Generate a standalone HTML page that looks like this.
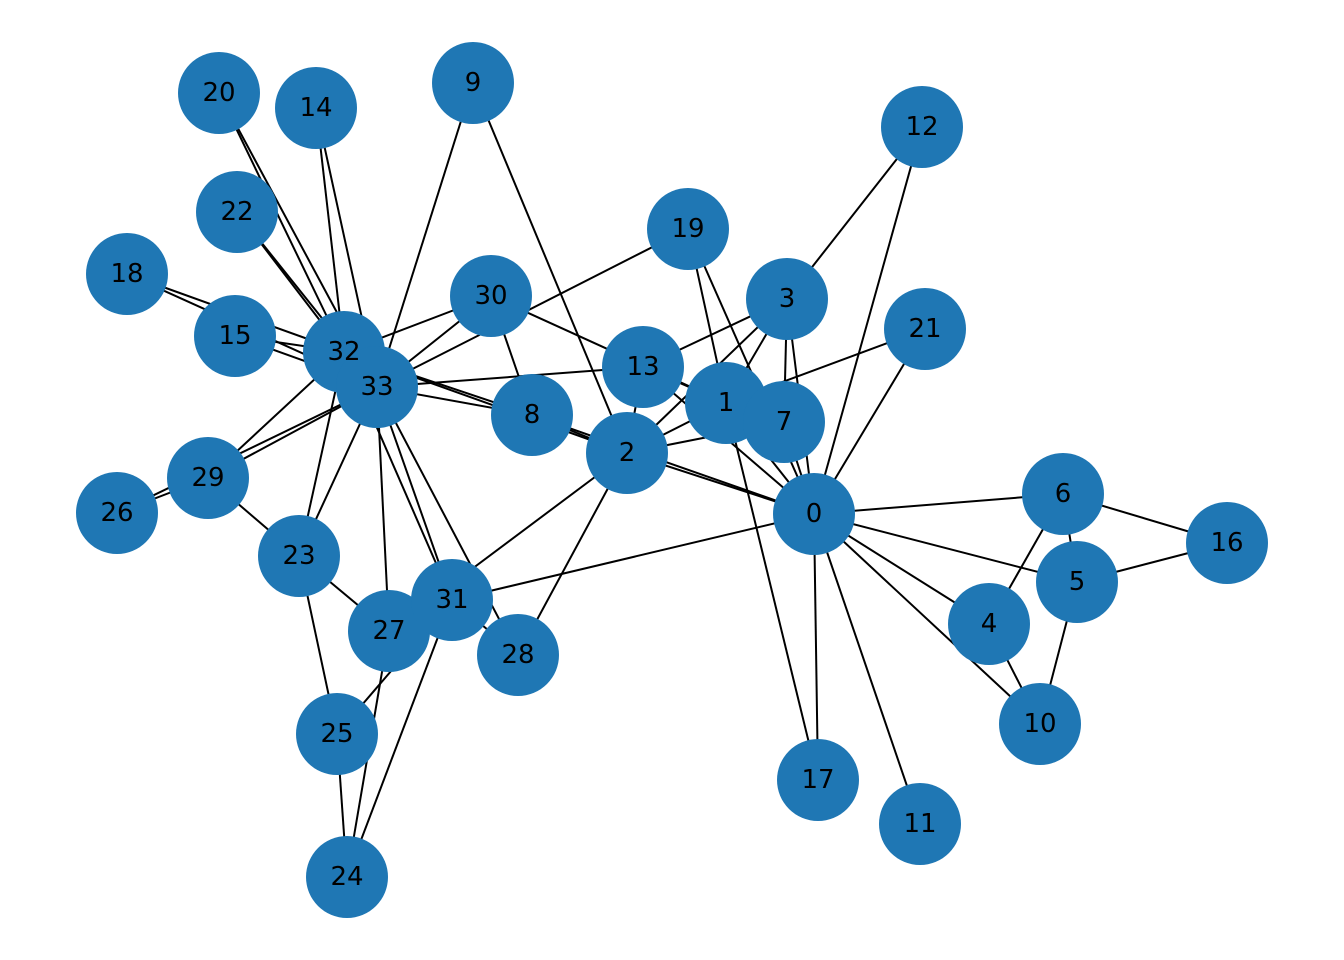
<!DOCTYPE html>
<html><head><meta charset="utf-8"><style>html,body{margin:0;padding:0;background:#fff}svg{display:block}</style></head>
<body>
<svg width="1344" height="960" viewBox="0 0 1344 960" xmlns="http://www.w3.org/2000/svg">
<g stroke="#000" stroke-width="2">
<line x1="814" y1="514" x2="726" y2="403"/><line x1="814" y1="514" x2="627" y2="453"/><line x1="814" y1="514" x2="787" y2="299"/><line x1="814" y1="514" x2="989" y2="624"/><line x1="814" y1="514" x2="1077" y2="582"/><line x1="814" y1="514" x2="1063" y2="494"/><line x1="814" y1="514" x2="784" y2="422"/><line x1="814" y1="514" x2="532" y2="415"/><line x1="814" y1="514" x2="1040" y2="724"/><line x1="814" y1="514" x2="920" y2="824"/><line x1="814" y1="514" x2="922" y2="127"/><line x1="814" y1="514" x2="643" y2="367"/><line x1="814" y1="514" x2="818" y2="780"/><line x1="814" y1="514" x2="688" y2="229"/><line x1="814" y1="514" x2="925" y2="329"/><line x1="814" y1="514" x2="452" y2="600"/>
<line x1="726" y1="403" x2="627" y2="453"/><line x1="726" y1="403" x2="787" y2="299"/><line x1="726" y1="403" x2="784" y2="422"/><line x1="726" y1="403" x2="643" y2="367"/><line x1="726" y1="403" x2="818" y2="780"/><line x1="726" y1="403" x2="688" y2="229"/><line x1="726" y1="403" x2="925" y2="329"/><line x1="726" y1="403" x2="491" y2="296"/>
<line x1="627" y1="453" x2="787" y2="299"/><line x1="627" y1="453" x2="784" y2="422"/><line x1="627" y1="453" x2="532" y2="415"/><line x1="627" y1="453" x2="473" y2="83"/><line x1="627" y1="453" x2="643" y2="367"/><line x1="627" y1="453" x2="389" y2="631"/><line x1="627" y1="453" x2="518" y2="655"/><line x1="627" y1="453" x2="344" y2="352"/>
<line x1="787" y1="299" x2="784" y2="422"/><line x1="787" y1="299" x2="922" y2="127"/><line x1="787" y1="299" x2="643" y2="367"/>
<line x1="989" y1="624" x2="1063" y2="494"/><line x1="989" y1="624" x2="1040" y2="724"/>
<line x1="1077" y1="582" x2="1063" y2="494"/><line x1="1077" y1="582" x2="1040" y2="724"/><line x1="1077" y1="582" x2="1227" y2="543"/>
<line x1="1063" y1="494" x2="1227" y2="543"/>
<line x1="532" y1="415" x2="491" y2="296"/><line x1="532" y1="415" x2="344" y2="352"/><line x1="532" y1="415" x2="377" y2="387"/>
<line x1="473" y1="83" x2="377" y2="387"/><line x1="643" y1="367" x2="377" y2="387"/>
<line x1="316" y1="108" x2="344" y2="352"/><line x1="316" y1="108" x2="377" y2="387"/>
<line x1="235" y1="336" x2="344" y2="352"/><line x1="235" y1="336" x2="377" y2="387"/>
<line x1="127" y1="274" x2="344" y2="352"/><line x1="127" y1="274" x2="377" y2="387"/>
<line x1="688" y1="229" x2="377" y2="387"/>
<line x1="219" y1="93" x2="344" y2="352"/><line x1="219" y1="93" x2="377" y2="387"/>
<line x1="237" y1="212" x2="344" y2="352"/><line x1="237" y1="212" x2="377" y2="387"/>
<line x1="299" y1="556" x2="337" y2="734"/><line x1="299" y1="556" x2="389" y2="631"/><line x1="299" y1="556" x2="208" y2="478"/><line x1="299" y1="556" x2="344" y2="352"/><line x1="299" y1="556" x2="377" y2="387"/>
<line x1="347" y1="877" x2="337" y2="734"/><line x1="347" y1="877" x2="389" y2="631"/><line x1="347" y1="877" x2="452" y2="600"/>
<line x1="337" y1="734" x2="452" y2="600"/>
<line x1="117" y1="513" x2="208" y2="478"/><line x1="117" y1="513" x2="377" y2="387"/>
<line x1="389" y1="631" x2="377" y2="387"/>
<line x1="518" y1="655" x2="452" y2="600"/><line x1="518" y1="655" x2="377" y2="387"/>
<line x1="208" y1="478" x2="344" y2="352"/><line x1="208" y1="478" x2="377" y2="387"/>
<line x1="491" y1="296" x2="344" y2="352"/><line x1="491" y1="296" x2="377" y2="387"/>
<line x1="452" y1="600" x2="344" y2="352"/><line x1="452" y1="600" x2="377" y2="387"/>
<line x1="344" y1="352" x2="377" y2="387"/>
</g>
<g fill="#1f77b4">
<circle cx="814" cy="514" r="41"/><circle cx="726" cy="403" r="41"/><circle cx="627" cy="453" r="41"/><circle cx="787" cy="299" r="41"/><circle cx="989" cy="624" r="41"/><circle cx="1077" cy="582" r="41"/><circle cx="1063" cy="494" r="41"/><circle cx="784" cy="422" r="41"/><circle cx="532" cy="415" r="41"/><circle cx="473" cy="83" r="41"/><circle cx="1040" cy="724" r="41"/><circle cx="920" cy="824" r="41"/><circle cx="922" cy="127" r="41"/><circle cx="643" cy="367" r="41"/><circle cx="316" cy="108" r="41"/><circle cx="235" cy="336" r="41"/><circle cx="1227" cy="543" r="41"/><circle cx="818" cy="780" r="41"/><circle cx="127" cy="274" r="41"/><circle cx="688" cy="229" r="41"/><circle cx="219" cy="93" r="41"/><circle cx="925" cy="329" r="41"/><circle cx="237" cy="212" r="41"/><circle cx="299" cy="556" r="41"/><circle cx="347" cy="877" r="41"/><circle cx="337" cy="734" r="41"/><circle cx="117" cy="513" r="41"/><circle cx="389" cy="631" r="41"/><circle cx="518" cy="655" r="41"/><circle cx="208" cy="478" r="41"/><circle cx="491" cy="296" r="41"/><circle cx="452" cy="600" r="41"/><circle cx="344" cy="352" r="41"/><circle cx="377" cy="387" r="41"/>
</g>
<g font-family="'DejaVu Sans','Liberation Sans',sans-serif" font-size="26" fill="#000" text-anchor="middle" dominant-baseline="central">
<text x="814" y="514">0</text><text x="726" y="403">1</text><text x="627" y="453">2</text><text x="787" y="299">3</text><text x="989" y="624">4</text><text x="1077" y="582">5</text><text x="1063" y="494">6</text><text x="784" y="422">7</text><text x="532" y="415">8</text><text x="473" y="83">9</text><text x="1040" y="724">10</text><text x="920" y="824">11</text><text x="922" y="127">12</text><text x="643" y="367">13</text><text x="316" y="108">14</text><text x="235" y="336">15</text><text x="1227" y="543">16</text><text x="818" y="780">17</text><text x="127" y="274">18</text><text x="688" y="229">19</text><text x="219" y="93">20</text><text x="925" y="329">21</text><text x="237" y="212">22</text><text x="299" y="556">23</text><text x="347" y="877">24</text><text x="337" y="734">25</text><text x="117" y="513">26</text><text x="389" y="631">27</text><text x="518" y="655">28</text><text x="208" y="478">29</text><text x="491" y="296">30</text><text x="452" y="600">31</text><text x="344" y="352">32</text><text x="377" y="387">33</text>
</g>
</svg>
</body></html>
